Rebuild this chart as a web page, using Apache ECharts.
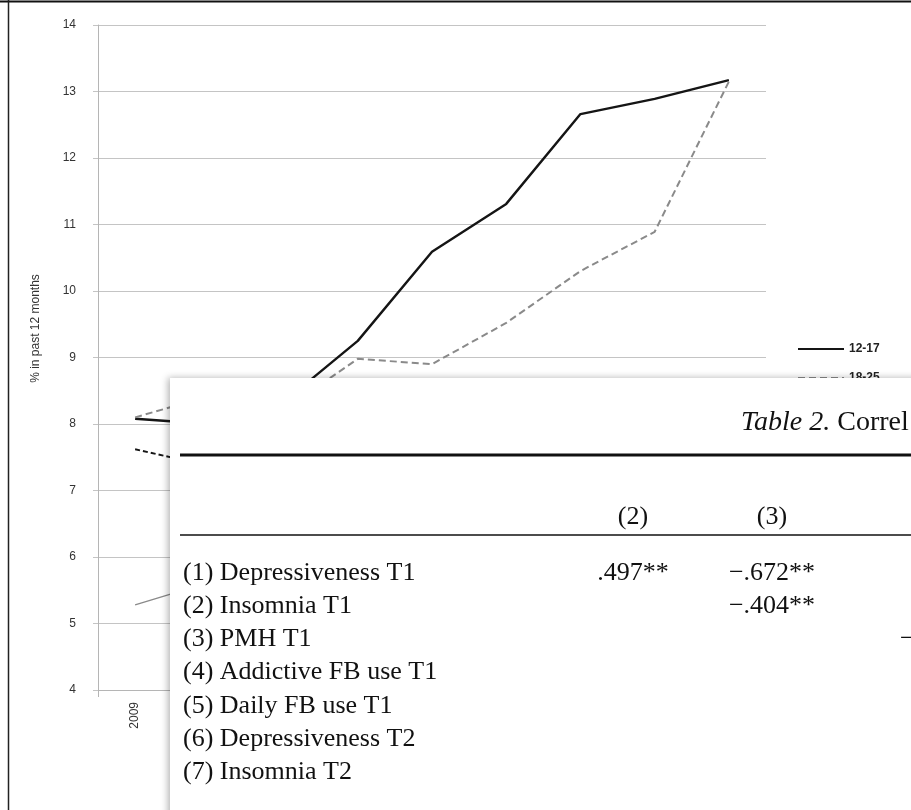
<!DOCTYPE html>
<html>
<head>
<meta charset="utf-8">
<script src="https://cdn.jsdelivr.net/npm/echarts@6/dist/echarts.min.js"></script>
<style>
  html, body { margin: 0; padding: 0; background: #ffffff; }
  #chart { width: 911px; height: 810px; }
</style>
</head>
<body>
<div id="chart"></div>
<script>
// Major depressive episode in past 12 months, by age group
const years = ['2009', '2010', '2011', '2012', '2013', '2014', '2015', '2016', '2017'];
const age12to17 = [8.08, 8.0, 8.33, 9.25, 10.59, 11.31, 12.66, 12.89, 13.17];
const age18to25 = [8.1, 8.42, 8.21, 8.98, 8.9, 9.52, 10.3, 10.89, 13.15];
const age26to49 = [7.62, 7.37, 7.3, 7.6, 7.5, 7.3, 7.4, 7.7, 7.7];
const age50plus = [5.28, 5.62, 5.2, 5.6, 5.3, 5.0, 4.9, 4.8, 4.7];
const seriesNames = ['12-17', '18-25', '26-49', '50+'];
const yMin = 4, yMax = 14, yStep = 1;
const yAxisTitle = '% in past 12 months';

// Correlation table pasted over the chart
const tableTitleItalic = 'Table 2.';
const tableTitleRest = ' Correl';
const tableHeaders = ['(2)', '(3)'];
const tableRowLabels = [
  '(1) Depressiveness T1',
  '(2) Insomnia T1',
  '(3) PMH T1',
  '(4) Addictive FB use T1',
  '(5) Daily FB use T1',
  '(6) Depressiveness T2',
  '(7) Insomnia T2'
];
const tableCol2 = ['.497**', '', '', '', '', '', ''];
const tableCol3 = ['\u2212.672**', '\u2212.404**', '', '', '', '', ''];
const tableCol4 = ['', '', '\u2212', '', '', '', ''];

const chart = echarts.init(document.getElementById('chart'));

const sansFont = '"Liberation Sans", Arial, sans-serif';
const serifFont = '"Liberation Serif", "Times New Roman", serif';

// Table overlay layout
const tbl = { x: 170, y: 378, rowTop: 573, rowStep: 33.2, labelX: 183, col2X: 633, col3X: 772, col4X: 900 };
const TZ = 100;

const tableElements = [];
tableElements.push({
  type: 'rect', z: TZ,
  shape: { x: tbl.x, y: tbl.y, width: 911 - tbl.x + 10, height: 810 - tbl.y + 10 },
  style: { fill: '#ffffff', shadowBlur: 7, shadowColor: 'rgba(0,0,0,0.3)', shadowOffsetX: -2, shadowOffsetY: 0 }
});
tableElements.push({
  type: 'text', z: TZ + 1, x: 741, y: 423,
  style: {
    text: '{i|' + tableTitleItalic + '}{r|' + tableTitleRest + '}',
    verticalAlign: 'middle', fill: '#111',
    rich: {
      i: { fontFamily: serifFont, fontSize: 28, fontStyle: 'italic', fill: '#111' },
      r: { fontFamily: serifFont, fontSize: 28, fill: '#111' }
    }
  }
});
tableElements.push({ type: 'line', z: TZ + 1, shape: { x1: 180, y1: 455, x2: 912, y2: 455 }, style: { stroke: '#111', lineWidth: 3 } });
tableElements.push({ type: 'line', z: TZ + 1, shape: { x1: 180, y1: 535, x2: 912, y2: 535 }, style: { stroke: '#111', lineWidth: 1.6 } });
[tbl.col2X, tbl.col3X].forEach((cx, i) => {
  tableElements.push({
    type: 'text', z: TZ + 1, x: cx, y: 517,
    style: { text: tableHeaders[i], fontFamily: serifFont, fontSize: 26, fill: '#111', align: 'center', verticalAlign: 'middle' }
  });
});
tableRowLabels.forEach((label, r) => {
  const cy = tbl.rowTop + r * tbl.rowStep;
  tableElements.push({
    type: 'text', z: TZ + 1, x: tbl.labelX, y: cy,
    style: { text: label, fontFamily: serifFont, fontSize: 26, fill: '#111', align: 'left', verticalAlign: 'middle' }
  });
  if (tableCol2[r]) tableElements.push({
    type: 'text', z: TZ + 1, x: tbl.col2X, y: cy,
    style: { text: tableCol2[r], fontFamily: serifFont, fontSize: 26, fill: '#111', align: 'center', verticalAlign: 'middle' }
  });
  if (tableCol3[r]) tableElements.push({
    type: 'text', z: TZ + 1, x: tbl.col3X, y: cy,
    style: { text: tableCol3[r], fontFamily: serifFont, fontSize: 26, fill: '#111', align: 'center', verticalAlign: 'middle' }
  });
  if (tableCol4[r]) tableElements.push({
    type: 'text', z: TZ + 1, x: tbl.col4X, y: cy,
    style: { text: tableCol4[r], fontFamily: serifFont, fontSize: 26, fill: '#111', align: 'left', verticalAlign: 'middle' }
  });
});

const option = {
  backgroundColor: '#ffffff',
  animation: false,
  grid: { left: 98, right: 145, top: 25, bottom: 120, containLabel: false },
  legend: {
    data: seriesNames,
    orient: 'vertical',
    left: 797,
    top: 343,
    padding: 0,
    itemWidth: 46,
    itemHeight: 12,
    itemGap: 17,
    itemStyle: { opacity: 0 },
    textStyle: { fontFamily: sansFont, fontSize: 12, fontWeight: 'bold', color: '#222' }
  },
  xAxis: {
    type: 'category',
    data: years,
    boundaryGap: true,
    axisLine: { show: true, lineStyle: { color: '#b5b5b5', width: 1 } },
    axisTick: { show: true, length: 7, lineStyle: { color: '#b5b5b5' } },
    axisLabel: { rotate: 90, margin: 12, fontFamily: sansFont, fontSize: 12, color: '#333' },
    splitLine: { show: false }
  },
  yAxis: {
    type: 'value',
    min: yMin,
    max: yMax,
    interval: yStep,
    name: yAxisTitle,
    nameLocation: 'middle',
    nameGap: 56,
    nameTextStyle: { fontFamily: sansFont, fontSize: 12, color: '#333', padding: [0, 0, 0, 58] },
    axisLine: { show: true, lineStyle: { color: '#b5b5b5', width: 1 } },
    axisTick: { show: true, length: 5, lineStyle: { color: '#c4c4c4' } },
    axisLabel: { margin: 22, fontFamily: sansFont, fontSize: 12, color: '#333' },
    splitLine: { show: true, lineStyle: { color: '#c4c4c4', width: 1 } }
  },
  series: [
    {
      name: seriesNames[0], type: 'line', data: age12to17, symbol: 'none', showSymbol: false,
      lineStyle: { color: '#151515', width: 2.4 }, itemStyle: { color: '#151515' }
    },
    {
      name: seriesNames[1], type: 'line', data: age18to25, symbol: 'none', showSymbol: false,
      lineStyle: { color: '#8a8a8a', width: 2, type: [7, 4] }, itemStyle: { color: '#8a8a8a' }
    },
    {
      name: seriesNames[2], type: 'line', data: age26to49, symbol: 'none', showSymbol: false,
      lineStyle: { color: '#151515', width: 2, type: [5, 3] }, itemStyle: { color: '#151515' }
    },
    {
      name: seriesNames[3], type: 'line', data: age50plus, symbol: 'none', showSymbol: false,
      lineStyle: { color: '#8a8a8a', width: 1.3 }, itemStyle: { color: '#8a8a8a' }
    }
  ],
  graphic: [
    { type: 'group', z: TZ, children: tableElements },
    { type: 'line', z: TZ + 2, shape: { x1: 0, y1: 1.5, x2: 911, y2: 1.5 }, style: { stroke: '#111', lineWidth: 2 } },
    { type: 'line', z: TZ + 2, shape: { x1: 8.5, y1: 0, x2: 8.5, y2: 810 }, style: { stroke: '#222', lineWidth: 1.5 } }
  ]
};

chart.setOption(option);
</script>
</body>
</html>
